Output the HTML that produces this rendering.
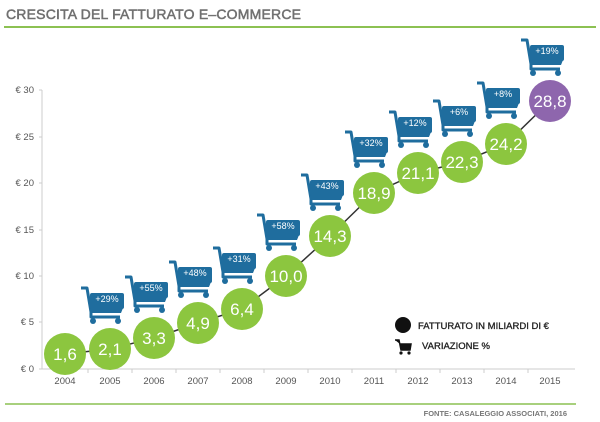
<!DOCTYPE html>
<html><head><meta charset="utf-8"><style>
html,body{margin:0;padding:0;background:#fff;}
svg{display:block;font-family:"Liberation Sans",sans-serif;}
</style></head><body>
<svg width="600" height="422" viewBox="0 0 600 422" xmlns="http://www.w3.org/2000/svg">
<defs>
<g id="cart">
<path d="M-30,-62 L-24,-62 L-20,-38 L-20,-33 L9,-33" fill="none" stroke="#1f6d9e" stroke-width="3" stroke-linejoin="round"/>
<rect x="-21" y="-57" width="34" height="16" rx="2" fill="#1f6d9e"/>
<path d="M-21,-42 L-19,-37 L10,-37 L12,-42Z" fill="#1f6d9e"/>
<circle cx="-18" cy="-29" r="3" fill="#1f6d9e"/>
<circle cx="7" cy="-29" r="3" fill="#1f6d9e"/>
</g>
</defs>
<text x="6" y="19" font-size="14" fill="#707070" stroke="#707070" stroke-width="0.5" letter-spacing="0.2">CRESCITA DEL FATTURATO E–COMMERCE</text>
<line x1="4" y1="27" x2="596" y2="27" stroke="#8cc152" stroke-width="2"/>
<line x1="5" y1="404" x2="576" y2="404" stroke="#8cc152" stroke-width="1.5"/>
<text x="567" y="416" font-size="7.5" font-weight="bold" fill="#777" text-anchor="end">FONTE: CASALEGGIO ASSOCIATI, 2016</text>
<g stroke="#ccc" stroke-width="1">
<line x1="42" y1="90" x2="42" y2="369"/>
<line x1="42" y1="369" x2="575" y2="369"/>
<line x1="39" y1="90" x2="42" y2="90"/><line x1="39" y1="137" x2="42" y2="137"/><line x1="39" y1="183" x2="42" y2="183"/><line x1="39" y1="230" x2="42" y2="230"/><line x1="39" y1="276" x2="42" y2="276"/><line x1="39" y1="322" x2="42" y2="322"/><line x1="39" y1="369" x2="42" y2="369"/>
<line x1="88" y1="369" x2="88" y2="373"/><line x1="132" y1="369" x2="132" y2="373"/><line x1="176" y1="369" x2="176" y2="373"/><line x1="220" y1="369" x2="220" y2="373"/><line x1="264" y1="369" x2="264" y2="373"/><line x1="308" y1="369" x2="308" y2="373"/><line x1="352" y1="369" x2="352" y2="373"/><line x1="396" y1="369" x2="396" y2="373"/><line x1="440" y1="369" x2="440" y2="373"/><line x1="484" y1="369" x2="484" y2="373"/><line x1="528" y1="369" x2="528" y2="373"/>
</g>
<g font-size="9.5" fill="#555" text-anchor="end">
<text x="34" y="93">€ 30</text><text x="34" y="140">€ 25</text><text x="34" y="186">€ 20</text><text x="34" y="233">€ 15</text><text x="34" y="279">€ 10</text><text x="34" y="325">€ 5</text><text x="34" y="372">€ 0</text>
</g>
<g font-size="9.5" fill="#555" text-anchor="middle">
<text x="65" y="384">2004</text><text x="110" y="384">2005</text><text x="154" y="384">2006</text><text x="198" y="384">2007</text><text x="242" y="384">2008</text><text x="286" y="384">2009</text><text x="330" y="384">2010</text><text x="374" y="384">2011</text><text x="418" y="384">2012</text><text x="462" y="384">2013</text><text x="506" y="384">2014</text><text x="550" y="384">2015</text>
</g>
<polyline points="65,354 110,349 154,338 198,323 242,309 286,276 330,236 374,193 418,173 462,162 506,144 550,101" fill="none" stroke="#333" stroke-width="1.5"/>
<g fill="#8cc63f">
<circle cx="65" cy="354" r="21"/><circle cx="110" cy="349" r="21"/><circle cx="154" cy="338" r="21"/><circle cx="198" cy="323" r="21"/><circle cx="242" cy="309" r="21"/><circle cx="286" cy="276" r="21"/><circle cx="330" cy="236" r="21"/><circle cx="374" cy="193" r="21"/><circle cx="418" cy="173" r="21"/><circle cx="462" cy="162" r="21"/><circle cx="506" cy="144" r="21"/>
</g>
<circle cx="550" cy="101" r="21" fill="#8e66ad"/>
<g font-size="17" fill="#fff" text-anchor="middle">
<text x="65" y="360">1,6</text><text x="110" y="355">2,1</text><text x="154" y="344">3,3</text><text x="198" y="329">4,9</text><text x="242" y="315">6,4</text><text x="286" y="282">10,0</text><text x="330" y="242">14,3</text><text x="374" y="199">18,9</text><text x="418" y="179">21,1</text><text x="462" y="168">22,3</text><text x="506" y="150">24,2</text><text x="550" y="107">28,8</text>
</g>
<g>
<use href="#cart" x="111" y="350"/><use href="#cart" x="155" y="339"/><use href="#cart" x="199" y="324"/><use href="#cart" x="243" y="310"/><use href="#cart" x="287" y="277"/><use href="#cart" x="331" y="237"/><use href="#cart" x="375" y="194"/><use href="#cart" x="419" y="174"/><use href="#cart" x="463" y="163"/><use href="#cart" x="507" y="145"/><use href="#cart" x="551" y="102"/>
</g>
<g font-size="9" fill="#fff" text-anchor="middle">
<text x="107" y="302">+29%</text><text x="151" y="291">+55%</text><text x="195" y="276">+48%</text><text x="239" y="262">+31%</text><text x="283" y="229">+58%</text><text x="327" y="189">+43%</text><text x="371" y="146">+32%</text><text x="415" y="126">+12%</text><text x="459" y="115">+6%</text><text x="503" y="97">+8%</text><text x="547" y="54">+19%</text>
</g>
<circle cx="403" cy="325" r="8" fill="#111"/>
<text x="418" y="329" font-size="9.5" fill="#222" stroke="#222" stroke-width="0.3">FATTURATO IN MILIARDI DI €</text>
<g fill="#111"><path d="M395,340 L399,340 L401,350 L410,350 L411,344 L400,344" stroke="#111" stroke-width="1.5" fill="#111"/><circle cx="401" cy="353" r="1.6"/><circle cx="409" cy="353" r="1.6"/></g>
<text x="422" y="349" font-size="9.5" fill="#222" stroke="#222" stroke-width="0.3">VARIAZIONE %</text>
</svg>
</body></html>
